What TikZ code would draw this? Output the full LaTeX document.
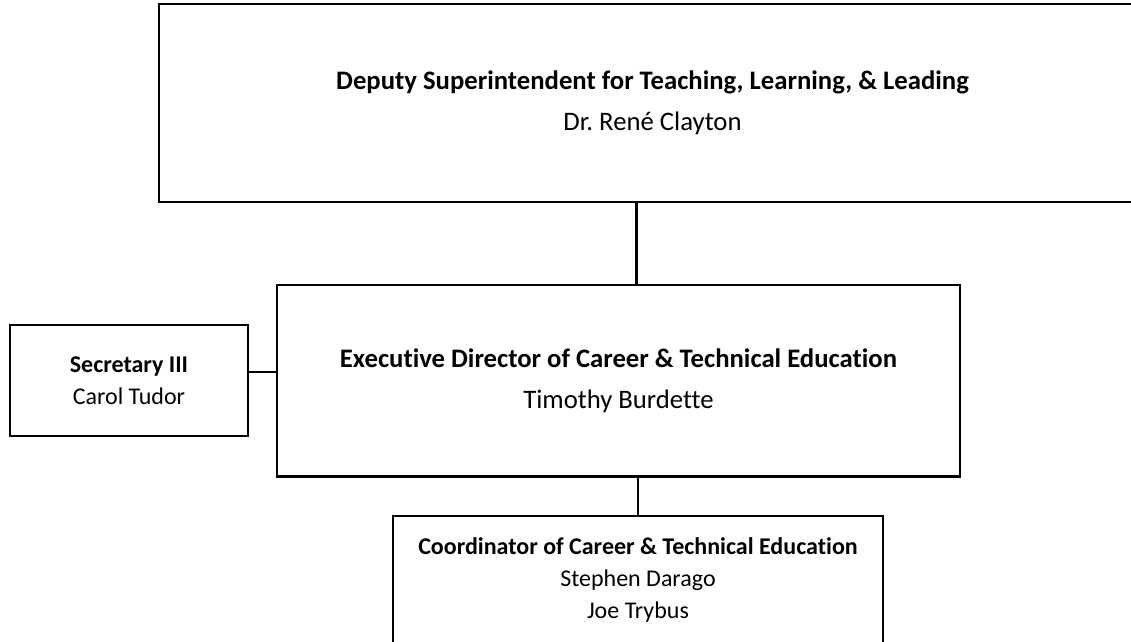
\documentclass[tikz,border=0pt]{standalone}
\usepackage{fontspec}
\setmainfont{Carlito}[Ligatures=NoCommon]

\begin{document}
\begin{tikzpicture}[x=1pt,y=-1pt,
    box/.style={draw,line width=2.4pt,align=center,inner sep=0pt},
    big/.style={font=\fontsize{26.7}{40.5}\selectfont},
    small/.style={font=\fontsize{24}{32}\selectfont},
    link/.style={line width=2.2pt}]
  \useasboundingbox (0,0) rectangle (1131,641);
  \clip (0,0) rectangle (1131,641);

  \node [box,big,minimum width=987pt,minimum height=198pt] (deputy) at (652.5,103)
    {\textbf{Deputy Superintendent for Teaching, Learning, \& Leading}\\ Dr.\ René Clayton};
  \node [box,big,minimum width=683pt,minimum height=191.5pt] (execdir) at (618.5,380.7)
    {\textbf{Executive Director of Career \& Technical Education}\\ Timothy Burdette};
  \node [box,small,minimum width=238pt,minimum height=111pt] (secretary) at (129,380.5)
    {\textbf{Secretary III}\\ Carol Tudor};
  \node [box,small,minimum width=490pt,minimum height=128pt] (coord) at (638,580)
    {\textbf{Coordinator of Career \& Technical Education}\\
     Stephen Darago\\ Joe Trybus};

  \draw [link] ([xshift=18pt]execdir.north) -- ([xshift=18pt]execdir.north |- deputy.south);
  \draw [link] (coord.north) -- (coord.north |- execdir.south);
  \draw [link] ([yshift=8.5pt]secretary.east) -- ([yshift=8.5pt]secretary.east -| execdir.west);
\end{tikzpicture}
\end{document}
